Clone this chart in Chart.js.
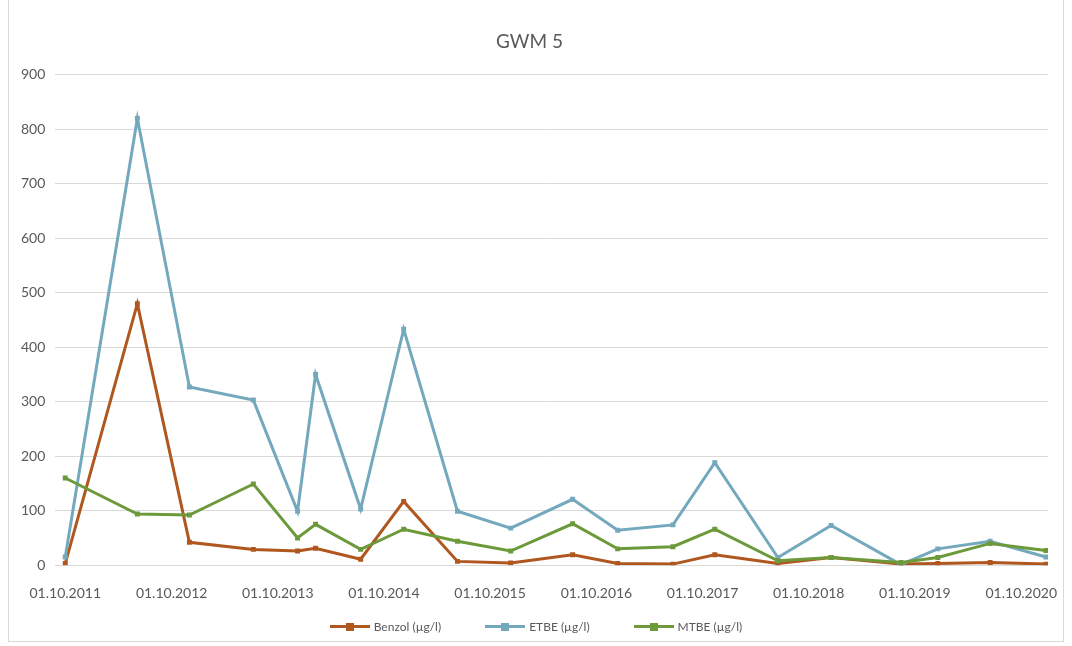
<!DOCTYPE html>
<html>
<head>
<meta charset="utf-8">
<title>GWM 5</title>
<script src="https://cdn.jsdelivr.net/npm/chart.js@4.4.1/dist/chart.umd.min.js"></script>
<style>
html, body { margin: 0; padding: 0; background: #fff; }
#frame { position: absolute; left: 8px; top: -1px; width: 1056px; height: 643px; border: 1px solid #d9d9d9; box-sizing: border-box; }
#wrap { position: absolute; left: 0; top: 0; width: 1072px; height: 646px; }
#legend { position: absolute; left: 0; top: 619px; width: 1072px; display: flex; justify-content: center; gap: 44px;
  font: 12px Lato, "Liberation Sans", sans-serif; color: #595959; }
.item { display: flex; align-items: center; }
.key { position: relative; width: 40px; height: 3px; margin-right: 4px; }
.key i { position: absolute; left: 16px; top: -2.5px; width: 8px; height: 8px; }
</style>
</head>
<body>
<div id="frame"></div>
<div id="wrap"><canvas id="chart"></canvas></div>
<div id="legend"></div>
<script>
// sampling dates (ISO) and measured concentrations in µg/l
const sampleDates = ['2011-10-01', '2012-06-05', '2012-12-01', '2013-07-09', '2013-12-08',
  '2014-02-08', '2014-07-13', '2014-12-08', '2015-06-11', '2015-12-11',
  '2016-07-11', '2016-12-13', '2017-06-21', '2017-11-12', '2018-06-17',
  '2018-12-17', '2019-08-14', '2019-12-19', '2020-06-16', '2020-12-25'];
const benzol = [3, 480, 42, 29, 26, 31, 11, 117, 7, 4, 19, 3, 2, 19, 3, 14, 2, 3, 5, 2];
const etbe = [15, 820, 327, 303, 99, 350, 103, 433, 99, 68, 121, 64, 74, 188, 14, 73, 1, 30, 44, 15];
const mtbe = [160, 94, 92, 149, 50, 75, 29, 66, 44, 26, 76, 30, 34, 66, 8, 14, 5, 14, 40, 27];
const seriesNames = ['Benzol (µg/l)', 'ETBE (µg/l)', 'MTBE (µg/l)'];
const seriesColors = ['#B0571F', '#74A9BD', '#6C9A3A'];
const axisLabels = ['01.10.2011', '01.10.2012', '01.10.2013', '01.10.2014', '01.10.2015',
  '01.10.2016', '01.10.2017', '01.10.2018', '01.10.2019', '01.10.2020'];

const DAY = 864e5;
function isoToDay(s) { const p = s.split('-'); return Date.UTC(+p[0], +p[1] - 1, +p[2]) / DAY; }
function labelToDay(s) { const p = s.split('.'); return Date.UTC(+p[2], +p[1] - 1, +p[0]) / DAY; }
function dayToLabel(d) {
  const t = new Date(d * DAY);
  const pad = n => (n < 10 ? '0' : '') + n;
  return pad(t.getUTCDate()) + '.' + pad(t.getUTCMonth() + 1) + '.' + t.getUTCFullYear();
}

const days = sampleDates.map(isoToDay);
const tickDays = axisLabels.map(labelToDay);
const values = [benzol, etbe, mtbe];

const datasets = values.map(function (vals, i) {
  return {
    label: seriesNames[i],
    data: vals.map((v, k) => ({ x: days[k], y: v })),
    borderColor: seriesColors[i],
    backgroundColor: seriesColors[i],
    borderWidth: 3,
    tension: 0,
    pointStyle: 'rect',
    pointRadius: 3.5,
    pointBorderWidth: 0,
    order: 3 - i
  };
});

// legend as plain html: line with a square marker, then the name
const legend = document.getElementById('legend');
seriesNames.forEach(function (name, i) {
  const item = document.createElement('div');
  item.className = 'item';
  item.innerHTML = '<span class="key" style="background:' + seriesColors[i] + '"><i style="background:' +
    seriesColors[i] + '"></i></span><span>' + name + '</span>';
  legend.appendChild(item);
});

const font = { family: 'Lato, "Liberation Sans", sans-serif', size: 14 };

new Chart(document.getElementById('chart'), {
  type: 'line',
  data: { datasets: datasets },
  options: {
    responsive: true,
    maintainAspectRatio: false,
    animation: false,
    layout: { padding: { left: 11, right: 24, top: 0, bottom: 32 } },
    plugins: {
      legend: { display: false },
      tooltip: { enabled: false },
      title: {
        display: true,
        text: 'GWM 5',
        color: '#595959',
        font: { family: font.family, size: 19, weight: 'normal' },
        padding: { top: 30, bottom: 22 }
      }
    },
    scales: {
      x: {
        type: 'linear',
        min: days[0] - 34,
        max: days[days.length - 1] + 7,
        grid: { display: false },
        border: { display: false },
        afterBuildTicks: function (scale) {
          scale.ticks = tickDays.map(v => ({ value: v }));
        },
        ticks: {
          autoSkip: false,
          maxRotation: 0,
          padding: 12,
          color: '#595959',
          font: font,
          callback: v => dayToLabel(v)
        }
      },
      y: {
        min: 0,
        max: 900,
        grid: { color: '#d9d9d9', lineWidth: 1, drawTicks: false },
        border: { display: false },
        ticks: { stepSize: 100, padding: 10, color: '#595959', font: font }
      }
    }
  }
});
</script>
</body>
</html>
